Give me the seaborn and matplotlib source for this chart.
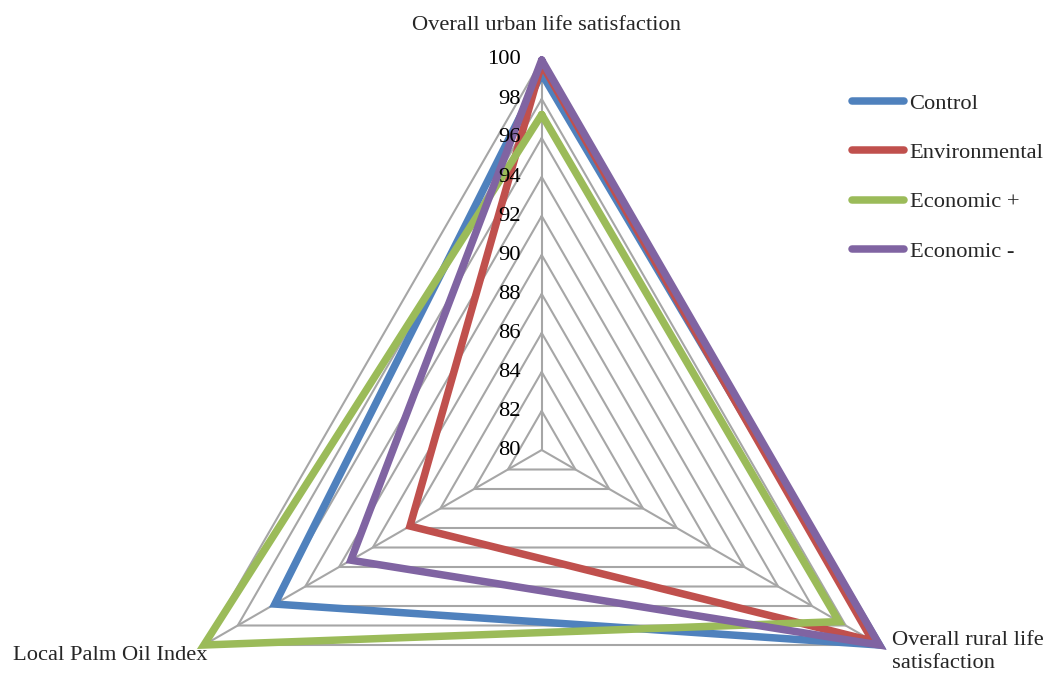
import numpy as np
import matplotlib
matplotlib.use("Agg")
import matplotlib.pyplot as plt
import seaborn as sns
from matplotlib.lines import Line2D

categories = ["Overall urban life satisfaction", "Overall rural life\nsatisfaction", "Local Palm Oil Index"]
series_names = ["Control", "Environmental", "Economic +", "Economic -"]
control = [99.3, 100.0, 95.8]
environmental = [99.8, 99.6, 87.8]
economic_plus = [97.2, 97.6, 100.0]
economic_minus = [100.0, 100.0, 91.3]
tick_values = [80, 82, 84, 86, 88, 90, 92, 94, 96, 98, 100]
colors = ["#4F81BD", "#C0504D", "#9BBB59", "#8064A2"]

sns.set_theme(style="white")
plt.rcParams["font.family"] = ["Liberation Serif", "DejaVu Serif"]

W, H = 1049, 676
fig = plt.figure(figsize=(W / 100, H / 100), dpi=100)
cx, cy, R = 541.7, 450, 390
ax = fig.add_axes([(cx - R) / W, (H - cy - R) / H, 2 * R / W, 2 * R / H], projection="polar")
ax.set_theta_offset(np.pi / 2)
ax.set_theta_direction(-1)
ax.set_ylim(80, 100)
ax.grid(False)
ax.spines["polar"].set_visible(False)
ax.set_xticks([])
ax.set_yticks([])
ax.patch.set_alpha(0)

n = len(categories)
theta = np.arange(n) * 2 * np.pi / n
theta_c = np.append(theta, theta[0])

grid_col = "#A6A6A6"
for r in tick_values[1:]:
    ax.plot(theta_c, [r] * (n + 1), color=grid_col, lw=1.5, clip_on=False, zorder=1)
for t in theta:
    ax.plot([t, t], [80, 100], color=grid_col, lw=1.5, clip_on=False, zorder=1)

for name, vals, col in zip(series_names, [control, environmental, economic_plus, economic_minus], colors):
    v = list(vals) + [vals[0]]
    sns.lineplot(x=theta_c, y=v, ax=ax, sort=False, color=col, lw=5.4, clip_on=False,
                 zorder=3, solid_joinstyle="miter", estimator=None)

fs = 16.2
for r in tick_values:
    ax.annotate(str(r), xy=(0, r), xytext=(-21, 0), textcoords="offset pixels",
                ha="right", va="center", fontsize=fs, color="black", annotation_clip=False)

ax.annotate(categories[0], xy=(0, 100), xytext=(5, 35), textcoords="offset pixels",
            ha="center", va="center", fontsize=fs, annotation_clip=False)
ax.annotate(categories[1], xy=(theta[1], 100), xytext=(13, -7), textcoords="offset pixels",
            ha="left", va="center", fontsize=fs, linespacing=1.25, annotation_clip=False)
ax.annotate(categories[2], xy=(theta[2], 100), xytext=(4, -10), textcoords="offset pixels",
            ha="right", va="center", fontsize=fs, annotation_clip=False)

handles = [Line2D([0], [0], color=c, lw=5.4, solid_capstyle="round") for c in colors]
fig.legend(handles, series_names, loc="upper left", bbox_to_anchor=(852 / W, 1 - 93 / H),
           frameon=False, fontsize=fs, handlelength=2.3, labelspacing=1.27, handletextpad=0.26,
           borderpad=0, borderaxespad=0)

ax.set_xlabel("")
ax.set_ylabel("")
fig.savefig("out.png", dpi=100)
